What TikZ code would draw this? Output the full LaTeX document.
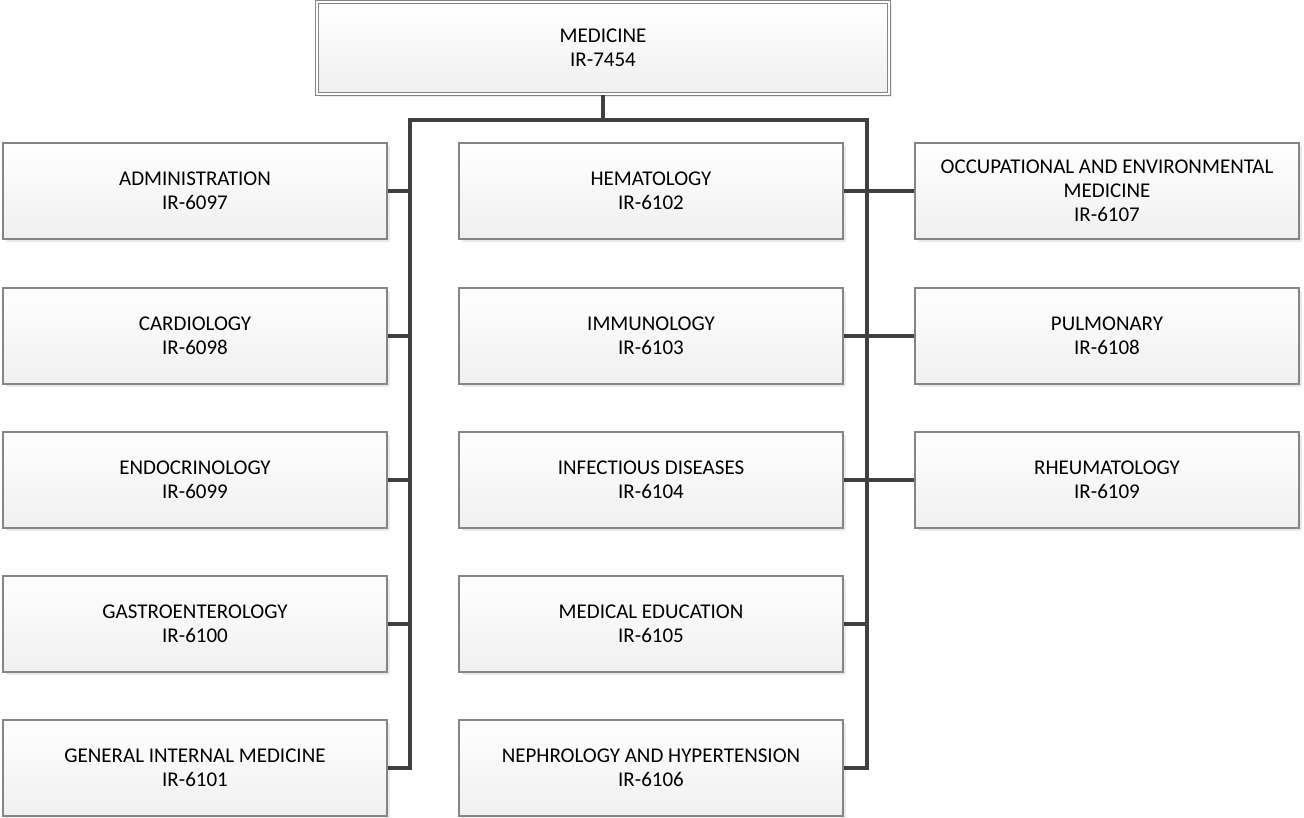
\documentclass[tikz,border=0pt]{standalone}
\usepackage{fontspec}
\setmainfont{Carlito}
\usetikzlibrary{shadows}
\definecolor{boxline}{HTML}{858585}
\definecolor{busline}{HTML}{404040}
\tikzset{
  unit/.style={draw=boxline, line width=1.1pt, top color=white, bottom color=black!6,
    minimum width=384pt, minimum height=96pt, inner sep=0pt, align=center,
    font=\fontsize{21}{24}\selectfont,
    drop shadow={shadow xshift=3pt, shadow yshift=-3pt, fill=black!8, opacity=1}},
  headunit/.style={unit, double=white, double distance=2.5pt, minimum width=572pt, minimum height=92pt},
  bus/.style={draw=busline, line width=3.2pt, line join=miter}
}
\begin{document}
\begin{tikzpicture}[x=1pt,y=-1pt]
\useasboundingbox (0,0) rectangle (1304,817);

\node[headunit] (medicine) at (603,48) {MEDICINE\\IR-7454};

\node[unit] (admin) at (195,191) {ADMINISTRATION\\IR-6097};
\node[unit] (cardio) at (195,336) {CARDIOLOGY\\IR-6098};
\node[unit] (endo) at (195,480) {ENDOCRINOLOGY\\IR-6099};
\node[unit] (gastro) at (195,624) {GASTROENTEROLOGY\\IR-6100};
\node[unit] (genmed) at (195,768) {GENERAL INTERNAL MEDICINE\\IR-6101};

\node[unit] (hema) at (651,191) {HEMATOLOGY\\IR-6102};
\node[unit] (immuno) at (651,336) {IMMUNOLOGY\\IR-6103};
\node[unit] (infect) at (651,480) {INFECTIOUS DISEASES\\IR-6104};
\node[unit] (meded) at (651,624) {MEDICAL EDUCATION\\IR-6105};
\node[unit] (nephro) at (651,768) {NEPHROLOGY AND HYPERTENSION\\IR-6106};

\node[unit] (occmed) at (1107,191) {OCCUPATIONAL AND ENVIRONMENTAL\\MEDICINE\\IR-6107};
\node[unit] (pulm) at (1107,336) {PULMONARY\\IR-6108};
\node[unit] (rheum) at (1107,480) {RHEUMATOLOGY\\IR-6109};

\coordinate (busL) at (410,120);
\coordinate (busR) at (867,120);

\draw[bus] (medicine.south) -- (medicine.south |- busL);
\draw[bus] (genmed.east) -| (busL) -- (busR) |- (nephro.east);

\draw[bus] (admin.east) -- (admin.east -| busL);
\draw[bus] (cardio.east) -- (cardio.east -| busL);
\draw[bus] (endo.east) -- (endo.east -| busL);
\draw[bus] (gastro.east) -- (gastro.east -| busL);

\draw[bus] (hema.east) -- (occmed.west);
\draw[bus] (immuno.east) -- (pulm.west);
\draw[bus] (infect.east) -- (rheum.west);
\draw[bus] (meded.east) -- (meded.east -| busR);
\end{tikzpicture}
\end{document}
